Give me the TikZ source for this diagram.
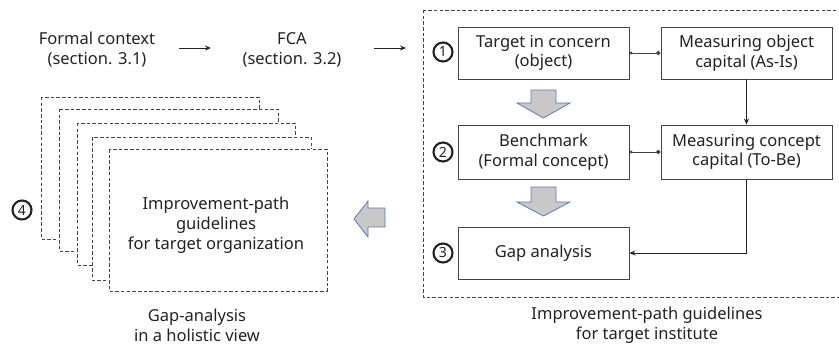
\documentclass[tikz,border=0pt]{standalone}
\usepackage{fontspec}
\setmainfont{Noto Sans}
\usetikzlibrary{arrows.meta,positioning}
\definecolor{ink}{HTML}{222222}
\definecolor{frame}{HTML}{444444}
\definecolor{blockfill}{HTML}{C8C8C8}
\definecolor{blockedge}{HTML}{5B7BB4}
\tikzset{
  procbox/.style={draw=frame, line width=0.9pt, fill=white, minimum width=171pt, minimum height=52pt,
    align=center, inner sep=0pt, font=\fontsize{16.5}{19.5}\selectfont, text=ink},
  plain/.style={align=center, font=\fontsize{16.5}{20}\selectfont, text=ink, inner sep=0pt},
  sheet/.style={draw=frame, dashed, dash pattern=on 3.5pt off 2.2pt, line width=0.8pt, fill=white},
  stepnum/.style={circle, draw=ink, line width=2.1pt, minimum size=19pt, inner sep=0pt,
    font=\bfseries\fontsize{14}{14}\selectfont, text=ink},
  flow/.style={draw=ink, line width=0.9pt, -{Stealth[length=6pt,width=5pt]}},
  joint/.style={draw=frame, line width=0.9pt, {Circle[length=3pt]}-{Circle[length=4.5pt]}},
  bigarrow/.style={fill=blockfill, draw=blockedge, line width=0.8pt, line join=miter}
}
\begin{document}
\begin{tikzpicture}[x=1pt,y=-1pt]
\useasboundingbox (0,0) rectangle (839,345);

% top row: inputs
\node[plain] (fc) at (97,50) {Formal context\\(section. 3.1)};
\node[plain] (fca) at (292,50) {FCA\\(section. 3.2)};
\coordinate (a1s) at (179,48); \coordinate (a1e) at (211,48);
\coordinate (a2s) at (374,48); \coordinate (a2e) at (406,48);
\draw[flow] (a1s) -- (a1e);
\draw[flow] (a2s) -- (a2e);

% right panel: per-institute analysis
\draw[sheet] (423,10) rectangle (850,297);
\node[procbox] (target) at (543.5,53) {Target in concern\\(object)};
\node[procbox] (asis) at (746.5,53) {Measuring object\\capital (As-Is)};
\node[procbox, minimum height=54pt] (bench) at (543.5,152) {Benchmark\\(Formal concept)};
\node[procbox, minimum height=54pt] (tobe) at (746.5,152) {Measuring concept\\capital (To-Be)};
\node[procbox] (gap) at (543.5,253) {Gap analysis};

\node[stepnum] (n1) at (443,52) {1};
\node[stepnum] (n2) at (443,152) {2};
\node[stepnum] (n3) at (443,253) {3};

\draw[joint] (target.east) -- (asis.west);
\draw[joint] (bench.east) -- (tobe.west);
\draw[flow] (asis.south) -- (tobe.north);
\draw[flow] (tobe.south) |- (gap.east);

% downward block arrows
\draw[bigarrow] (531,90) -- (556,90) -- (556,103) -- (570,103) -- (543.5,118) -- (517,103) -- (531,103) -- cycle;
\draw[bigarrow] (531,187) -- (556,187) -- (556,202) -- (570,202) -- (543.5,216) -- (517,202) -- (531,202) -- cycle;

\node[plain] (rlabel) at (647,325) {Improvement-path guidelines\\for target institute};

% left panel: stacked organisation sheets
\draw[sheet] (41,97) rectangle (259,239);
\draw[sheet] (59,109) rectangle (278,251);
\draw[sheet] (77,123) rectangle (295,265);
\draw[sheet] (92,137) rectangle (311,280);
\draw[sheet] (109,149) rectangle (327,291);
\node[plain] (guide) at (216,225) {Improvement-path\\guidelines\\for target organization};
\node[stepnum] (n4) at (22,210) {4};

% leftward block arrow
\draw[bigarrow] (385,208) -- (385,227) -- (368,227) -- (368,237) -- (354,219) -- (368,201) -- (368,208) -- cycle;

\node[plain] (llabel) at (197,325) {Gap-analysis\\in a holistic view};
\end{tikzpicture}
\end{document}
